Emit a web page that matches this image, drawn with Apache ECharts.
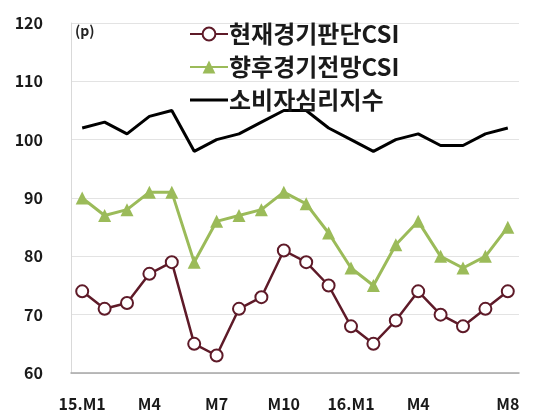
<!DOCTYPE html>
<html>
<head>
<meta charset="utf-8">
<script src="https://cdn.jsdelivr.net/npm/echarts@6/dist/echarts.min.js"></script>
<style>
  html, body { margin: 0; padding: 0; background: #fff; }
  #chart { width: 535px; height: 419px; }
</style>
</head>
<body>
<div id="chart"></div>
<script>
// months 15.M1 ~ 16.M8
var months = ['15.M1','M2','M3','M4','M5','M6','M7','M8','M9','M10','M11','M12',
              '16.M1','M2','M3','M4','M5','M6','M7','M8'];
var shownLabels = [0, 3, 6, 9, 12, 15, 19];

var currentCSI = [74, 71, 72, 77, 79, 65, 63, 71, 73, 81, 79, 75, 68, 65, 69, 74, 70, 68, 71, 74];
var outlookCSI = [90, 87, 88, 91, 91, 79, 86, 87, 88, 91, 89, 84, 78, 75, 82, 86, 80, 78, 80, 85];
var ccsi       = [102, 103, 101, 104, 105, 98, 100, 101, 103, 105, 105, 102, 100, 98, 100, 101, 99, 99, 101, 102];

var names = ['현재경기판단CSI', '향후경기전망CSI', '소비자심리지수'];

var font = '"Noto Sans CJK KR", "Noto Sans", sans-serif';
var chart = echarts.init(document.getElementById('chart'));

chart.setOption({
  animation: false,
  textStyle: { fontFamily: font },
  grid: { left: 71, right: 16, top: 23, bottom: 46 },
  graphic: [{
    type: 'text', left: 75, top: 24,
    style: { text: '(p)', font: 'bold 14px ' + font, fill: '#222' }
  }],
  legend: {
    orient: 'vertical',
    left: 184, top: 17,
    itemGap: 9,
    itemWidth: 38, itemHeight: 16,
    textStyle: { fontSize: 24, fontWeight: 'bold', color: '#1a1a1a', fontFamily: font, padding: [0, 0, 0, -4] },
    data: [
      names[0],
      names[1],
      { name: names[2], icon: 'path://M0,0 L38,0 L38,3.2 L0,3.2 Z' }
    ]
  },
  xAxis: {
    type: 'category',
    data: months,
    boundaryGap: true,
    axisLine: { lineStyle: { color: '#a6a6a6', width: 1.5 } },
    axisTick: { show: false },
    axisLabel: {
      interval: function (i) { return shownLabels.indexOf(i) >= 0; },
      margin: 23,
      fontSize: 16, fontWeight: 'bold', color: '#1a1a1a'
    }
  },
  yAxis: {
    type: 'value',
    min: 60, max: 120, interval: 10,
    axisLine: { show: true, lineStyle: { color: '#d9d9d9' } },
    axisTick: { show: false },
    splitLine: { lineStyle: { color: '#e3e3e3' } },
    axisLabel: { margin: 28, fontSize: 16, fontWeight: 'bold', color: '#1a1a1a' }
  },
  series: [
    {
      name: names[0], type: 'line', data: currentCSI,
      symbol: 'circle', symbolSize: 12,
      lineStyle: { color: '#5e1a28', width: 2.5 },
      itemStyle: { color: '#fff', borderColor: '#5e1a28', borderWidth: 2 }
    },
    {
      name: names[1], type: 'line', data: outlookCSI,
      symbol: 'triangle', symbolSize: 13,
      lineStyle: { color: '#9bbb59', width: 3 },
      itemStyle: { color: '#9bbb59' }
    },
    {
      name: names[2], type: 'line', data: ccsi,
      symbol: 'none',
      lineStyle: { color: '#000', width: 3 },
      itemStyle: { color: '#000' }
    }
  ]
});
</script>
</body>
</html>
